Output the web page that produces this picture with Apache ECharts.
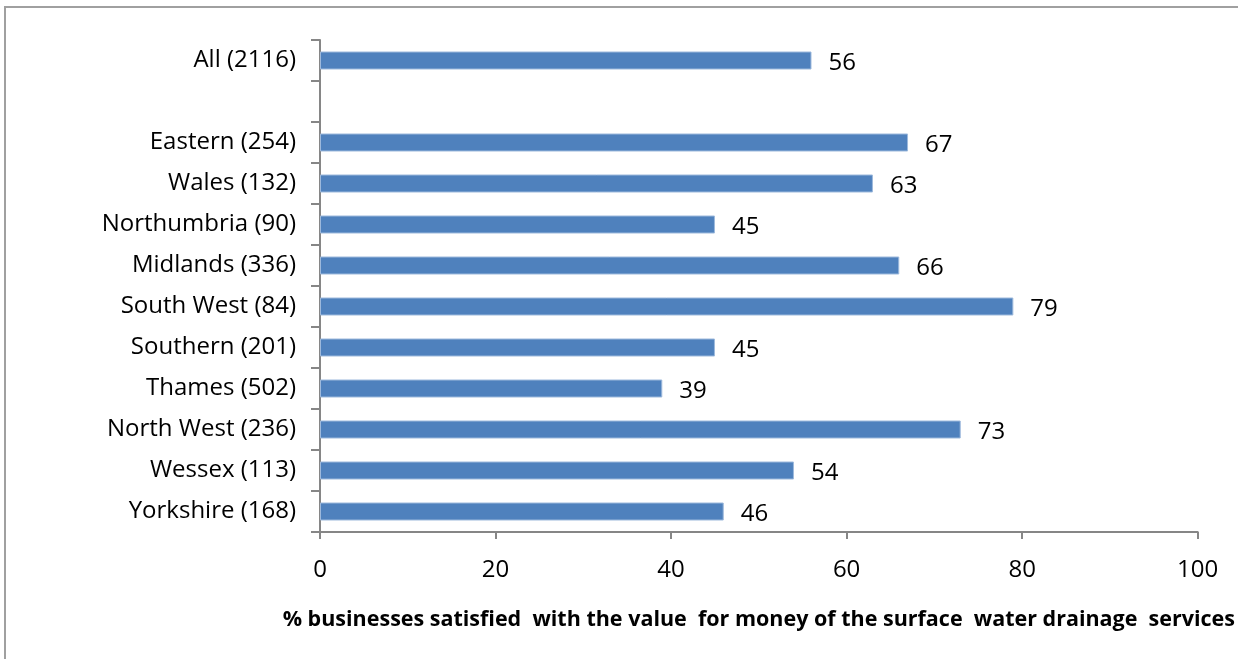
<!DOCTYPE html>
<html>
<head>
<meta charset="utf-8">
<script src="https://cdn.jsdelivr.net/npm/echarts@6/dist/echarts.min.js"></script>
<style>
  html, body { margin: 0; padding: 0; background: #fff; }
  #chart { width: 1238px; height: 659px; }
</style>
</head>
<body>
<div id="chart"></div>
<script>
// Regions (sample size), top to bottom; the empty slot separates the overall figure
const categories = ['All (2116)', '', 'Eastern (254)', 'Wales (132)', 'Northumbria (90)', 'Midlands (336)',
  'South West (84)', 'Southern (201)', 'Thames (502)', 'North West (236)', 'Wessex (113)', 'Yorkshire (168)'];
const satisfied = [56, null, 67, 63, 45, 66, 79, 45, 39, 73, 54, 46];
const xTicks = [0, 20, 40, 60, 80, 100];
const axisTitle = '% businesses satisfied  with the value  for money of the surface  water drainage  services';

const FONT = '"Open Sans", "Noto Sans", sans-serif';
const AXIS_GREY = '#868686';

const chart = echarts.init(document.getElementById('chart'), null, { renderer: 'canvas' });
chart.setOption({
  animation: false,
  backgroundColor: '#fff',
  graphic: [{
    type: 'rect',
    shape: { x: 5, y: 7, width: 1300, height: 700 },
    style: { fill: 'none', stroke: '#a0a0a0', lineWidth: 2 },
    silent: true
  }],
  grid: { left: 320, right: 38, top: 40, bottom: 127, containLabel: false },
  xAxis: {
    type: 'value',
    min: xTicks[0],
    max: xTicks[xTicks.length - 1],
    interval: 20,
    name: axisTitle,
    nameLocation: 'middle',
    nameGap: 77,
    nameTextStyle: { fontFamily: FONT, fontSize: 21.5, fontWeight: 'bold', color: '#000' },
    axisLine: { show: true, lineStyle: { color: AXIS_GREY, width: 2 } },
    axisTick: { show: true, length: 7, lineStyle: { color: AXIS_GREY, width: 2 } },
    axisLabel: { fontFamily: FONT, fontSize: 24, color: '#000', margin: 26 },
    splitLine: { show: false }
  },
  yAxis: {
    type: 'category',
    data: categories,
    inverse: true,
    axisLine: { show: true, lineStyle: { color: AXIS_GREY, width: 2 } },
    axisTick: { show: true, length: 9, inside: false, lineStyle: { color: AXIS_GREY, width: 2 } },
    axisLabel: { fontFamily: FONT, fontSize: 24, color: '#000', margin: 24 }
  },
  series: [{
    type: 'bar',
    data: satisfied,
    barWidth: 18,
    itemStyle: { color: '#4F81BD', borderColor: '#9DB9DC', borderWidth: 1 },
    label: {
      show: true,
      position: 'right',
      distance: 17,
      offset: [0, 3],
      fontFamily: FONT,
      fontSize: 24,
      color: '#000'
    }
  }]
});
</script>
</body>
</html>
